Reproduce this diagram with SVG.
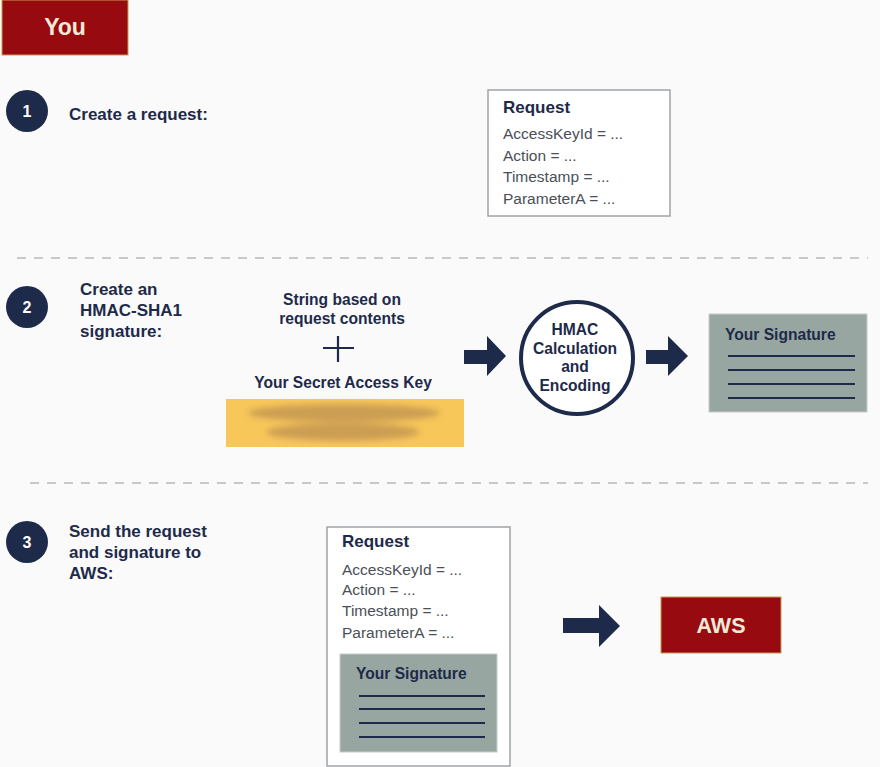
<svg xmlns="http://www.w3.org/2000/svg" width="880" height="767" viewBox="0 0 880 767">
<style>
.t{font-family:"Liberation Sans",Arial,sans-serif;font-weight:bold;fill:#1e2a4a;font-size:15.6px}
.s{font-family:"Liberation Sans",Arial,sans-serif;font-weight:bold;fill:#1e2a4a;font-size:17px}
.g{font-family:"Liberation Sans",Arial,sans-serif;fill:#4a4f58;font-size:15.5px}
.h{font-family:"Liberation Sans",Arial,sans-serif;font-weight:bold;fill:#1e2a4a;font-size:17px}
.w{font-family:"Liberation Sans",Arial,sans-serif;font-weight:bold;fill:#f2ead8;text-anchor:middle}
.num{font-family:"Liberation Sans",Arial,sans-serif;font-weight:bold;fill:#ffffff;font-size:16px;text-anchor:middle}
.badge{fill:#1e2a4a}
.box{fill:#ffffff;stroke:#a0a4a8;stroke-width:1.5}
.sig{fill:#97a6a0;stroke:#c8ccca;stroke-width:1}
.sl{stroke:#1e2a4a;stroke-width:2}
.red{fill:#960a10;stroke:#c89a50;stroke-width:1}
.dash{stroke:#c8c8c8;stroke-width:2;stroke-dasharray:9 8}
.arr{fill:#1e2a4a}
</style>
<defs>
<filter id="blur" x="-20%" y="-60%" width="140%" height="220%"><feGaussianBlur stdDeviation="3"/></filter>
</defs>
<rect width="880" height="767" fill="#fafafa"/>

<g id="you">
<rect class="red" x="2" y="0" width="126" height="55"/>
<text class="w" x="65" y="35" font-size="23px">You</text>
</g>

<g id="separators">
<line class="dash" x1="17" y1="258" x2="868" y2="258"/>
<line class="dash" x1="30" y1="483" x2="868" y2="483"/>
</g>

<g id="step1">
<circle class="badge" cx="27" cy="111" r="21"/>
<text class="num" x="27" y="117">1</text>
<text class="s" x="69" y="120">Create a request:</text>
</g>

<g id="request1">
<rect class="box" x="488" y="90" width="182" height="126"/>
<text class="h" x="503" y="113">Request</text>
<text class="g" x="503" y="139">AccessKeyId = ...</text>
<text class="g" x="503" y="161">Action = ...</text>
<text class="g" x="503" y="182">Timestamp = ...</text>
<text class="g" x="503" y="204">ParameterA = ...</text>
</g>

<g id="step2">
<circle class="badge" cx="27" cy="307" r="21"/>
<text class="num" x="27" y="313">2</text>
<text class="s" x="80" y="295">Create an</text>
<text class="s" x="80" y="316">HMAC-SHA1</text>
<text class="s" x="80" y="337">signature:</text>
</g>

<g id="inputs">
<text class="t" x="342" y="305" text-anchor="middle">String based on</text>
<text class="t" x="342" y="324" text-anchor="middle">request contents</text>
<line x1="323" y1="348" x2="354" y2="348" stroke="#1e2a4a" stroke-width="2"/>
<line x1="338" y1="336" x2="338" y2="362" stroke="#1e2a4a" stroke-width="2.2"/>
<text class="t" x="343" y="388" text-anchor="middle">Your Secret Access Key</text>
</g>

<g id="secretkey">
<rect x="226" y="399" width="238" height="48" fill="#f8c75a"/>
<g filter="url(#blur)" fill="#cc9e52">
<ellipse cx="344" cy="413" rx="96" ry="9"/>
<ellipse cx="343" cy="432" rx="77" ry="9"/>
</g>
</g>

<g id="hmac">
<circle cx="577" cy="358" r="56" fill="#ffffff" stroke="#1e2a4a" stroke-width="4"/>
<text class="t" x="575" y="335" text-anchor="middle">HMAC</text>
<text class="t" x="575" y="354" text-anchor="middle">Calculation</text>
<text class="t" x="575" y="372" text-anchor="middle">and</text>
<text class="t" x="575" y="391" text-anchor="middle">Encoding</text>
</g>

<g id="signature">
<rect class="sig" x="709" y="314" width="158" height="98"/>
<text class="t" x="725" y="340">Your Signature</text>
<line class="sl" x1="728" y1="356" x2="855" y2="356"/>
<line class="sl" x1="728" y1="370" x2="855" y2="370"/>
<line class="sl" x1="728" y1="384" x2="855" y2="384"/>
<line class="sl" x1="728" y1="398" x2="855" y2="398"/>
</g>

<g id="step3">
<circle class="badge" cx="27" cy="542" r="21"/>
<text class="num" x="27" y="548">3</text>
<text class="s" x="69" y="537">Send the request</text>
<text class="s" x="69" y="558">and signature to</text>
<text class="s" x="69" y="579">AWS:</text>
</g>

<g id="request3">
<rect class="box" x="327" y="527" width="183" height="239"/>
<text class="h" x="342" y="547">Request</text>
<text class="g" x="342" y="575">AccessKeyId = ...</text>
<text class="g" x="342" y="595">Action = ...</text>
<text class="g" x="342" y="616">Timestamp = ...</text>
<text class="g" x="342" y="638">ParameterA = ...</text>
<rect class="sig" x="340" y="654" width="157" height="98"/>
<text class="t" x="356" y="679">Your Signature</text>
<line class="sl" x1="359" y1="696" x2="485" y2="696"/>
<line class="sl" x1="359" y1="709" x2="485" y2="709"/>
<line class="sl" x1="359" y1="723" x2="485" y2="723"/>
<line class="sl" x1="359" y1="737" x2="485" y2="737"/>
</g>

<g id="aws">
<rect class="red" x="661" y="597" width="120" height="56"/>
<text class="w" x="721" y="633" font-size="21.5px">AWS</text>
</g>

<g id="connectors">
<polygon class="arr" points="464,350 487,350 487,336 506,356 487,376 487,364 464,364"/>
<polygon class="arr" points="646,350 668,350 668,336 688,356 668,376 668,364 646,364"/>
<polygon class="arr" points="563,618 599,618 599,605 620,626 599,647 599,633 563,633"/>
</g>
</svg>
